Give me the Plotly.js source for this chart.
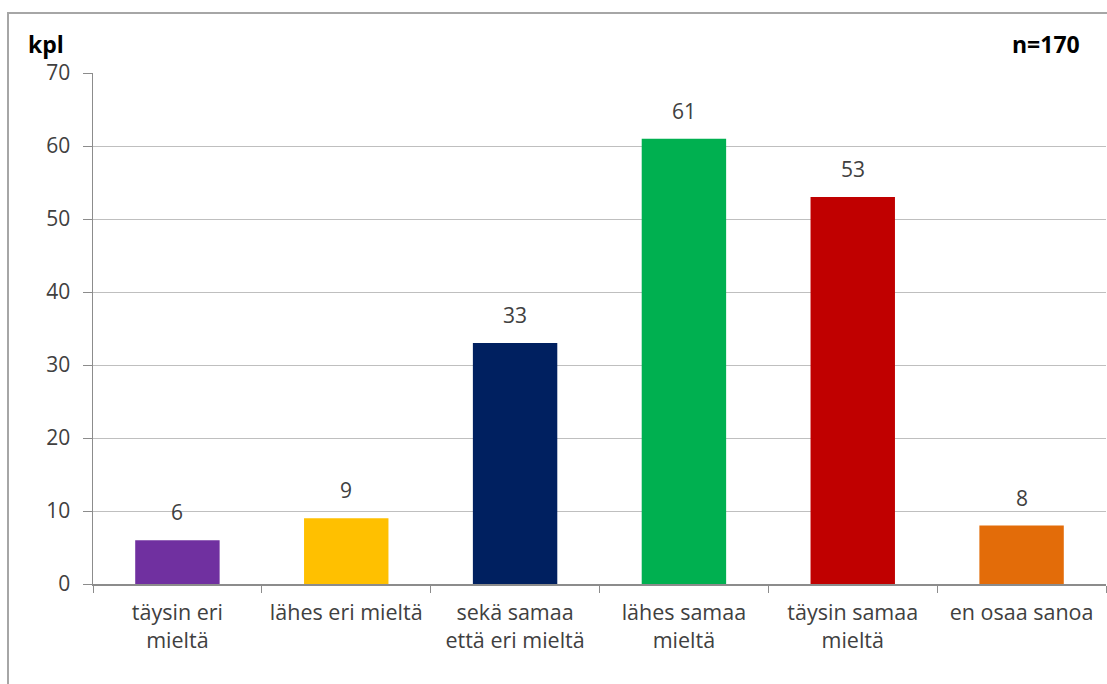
<!DOCTYPE html>
<html><head><meta charset="utf-8">
<script src="https://cdn.plot.ly/plotly-3.0.1.min.js"></script>
<style>body{margin:0;background:#fff}#c{width:1107px;height:684px}</style>
</head><body><div id="c"></div>
<script>
const categories = ["täysin eri<br>mieltä","lähes eri mieltä","sekä samaa<br>että eri mieltä","lähes samaa<br>mieltä","täysin samaa<br>mieltä","en osaa sanoa"];
const values = [6, 9, 33, 61, 53, 8];
const colors = ["#7030A0","#FFC000","#002060","#00B050","#C00000","#E36C09"];
const yTicks = [0,10,20,30,40,50,60,70];

const font = "'Open Sans', sans-serif";
const txt = "#404040";
const trace = {
  type: "bar", x: categories, y: values,
  marker: {color: colors},
  width: 0.5, hoverinfo: "none"
};
const valueLabels = categories.map((c, i) => ({
  x: c, y: values[i], xref: "x", yref: "y", text: String(values[i]),
  showarrow: false, yanchor: "bottom", yshift: 12,
  font: {family: font, size: 21, color: txt}
}));
const layout = {
  width: 1107, height: 684,
  margin: {l: 93, r: 1, t: 73, b: 100},
  paper_bgcolor: "#fff", plot_bgcolor: "#fff",
  showlegend: false,
  font: {family: font, size: 21, color: txt},
  xaxis: {type: "category", showline: true, linecolor: "#8c8c8c", linewidth: 1.5,
    ticks: "outside", tickson: "boundaries", ticklen: 7, tickcolor: "#8c8c8c",
    ticklabelstandoff: 9,
    tickfont: {family: font, size: 21.5, color: txt}, showgrid: false, fixedrange: true},
  yaxis: {range: [0, 70], tickvals: yTicks, showline: true, linecolor: "#8c8c8c", linewidth: 1.5,
    ticks: "outside", ticklen: 9, tickcolor: "#8c8c8c", gridcolor: "#bfbfbf", gridwidth: 1,
    ticklabelstandoff: 8,
    zeroline: false, tickfont: {family: font, size: 21, color: txt}, fixedrange: true},
  shapes: [{type: "rect", xref: "paper", yref: "paper",
    x0: (8-93)/1013, x1: (1110-93)/1013, y0: (584-690)/511, y1: (584-13)/511,
    line: {color: "#a6a6a6", width: 2}, fillcolor: "rgba(0,0,0,0)", layer: "below"}],
  annotations: valueLabels.concat([
    {text: "<b>kpl</b>", xref: "paper", yref: "paper", x: (26-93)/1013, y: (584-44)/511, xanchor: "left", yanchor: "middle", showarrow: false, font: {family: font, size: 23, color: "#000"}},
    {text: "<b>n=170</b>", xref: "paper", yref: "paper", x: (1082-93)/1013, y: (584-44)/511, xanchor: "right", yanchor: "middle", showarrow: false, font: {family: font, size: 23, color: "#000"}}
  ])
};
Plotly.newPlot("c", [trace], layout, {displayModeBar: false, staticPlot: true});
</script></body></html>
